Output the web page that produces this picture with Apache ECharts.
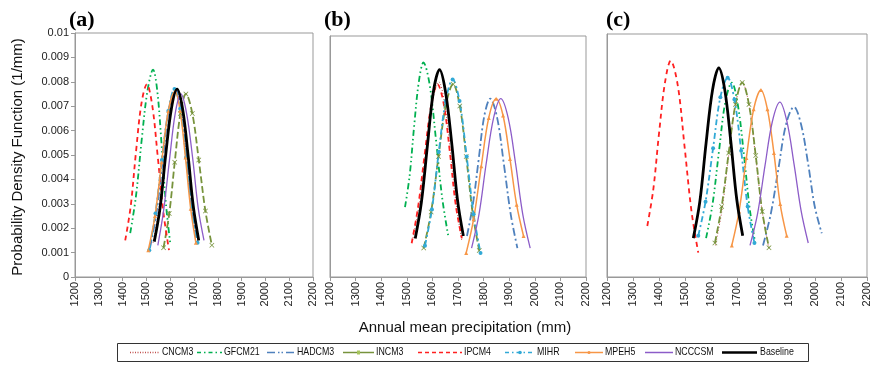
<!DOCTYPE html>
<html><head><meta charset="utf-8">
<script src="https://cdn.jsdelivr.net/npm/echarts@6/dist/echarts.min.js"></script>
<style>html,body{margin:0;padding:0;background:#fff}#c{width:876px;height:366px}</style>
</head><body><div id="c"></div>
<script>
const seriesNames = ['CNCM3','GFCM21','HADCM3','INCM3','IPCM4','MIHR','MPEH5','NCCCSM','Baseline'];
const panelLabels = ['(a)','(b)','(c)'];
const xAxisTitle = 'Annual mean precipitation (mm)';
const yAxisTitle = 'Probability Density Function (1/mm)';
const xMin = 1200, xMax = 2200, xStep = 100;
const yMin = 0, yMax = 0.01, yStep = 0.001;

// ---- panel (a) ----
const a_CNCM3   = [[1528,.0014],[1552,.0028],[1577,.0049],[1601,.0068],[1626,.0076],[1649,.0068],[1672,.0049],[1695,.0028],[1718,.0015]];
const a_GFCM21  = [[1432,.0018],[1456,.0033],[1480,.0056],[1504,.0076],[1528,.0085],[1546,.0076],[1564,.0054],[1582,.0030],[1600,.0014]];
const a_HADCM3  = [[1515,.0012],[1542,.0026],[1569,.0048],[1595,.0069],[1622,.0077],[1645,.0069],[1668,.0049],[1690,.0028],[1713,.0014]];
const a_INCM3   = [[1572,.0012],[1596,.0026],[1619,.0047],[1643,.0067],[1666,.0075],[1693,.0067],[1720,.0048],[1748,.0027],[1775,.0013]];
const a_IPCM4   = [[1411,.0015],[1434,.0029],[1456,.0051],[1479,.0071],[1502,.0079],[1525,.0070],[1548,.0049],[1572,.0026],[1595,.0011]];
const a_MIHR    = [[1512,.0011],[1538,.0026],[1565,.0048],[1592,.0068],[1618,.0077],[1642,.0069],[1667,.0049],[1691,.0028],[1715,.0014]];
const a_MPEH5   = [[1508,.0011],[1536,.0025],[1564,.0047],[1592,.0068],[1620,.0076],[1642,.0068],[1664,.0049],[1686,.0028],[1708,.0014]];
const a_NCCCSM  = [[1548,.0013],[1572,.0027],[1597,.0048],[1621,.0067],[1645,.0075],[1669,.0067],[1694,.0049],[1718,.0028],[1742,.0015]];
const a_Baseline= [[1533,.00145],[1557,.0028],[1581,.0050],[1605,.0069],[1629,.0077],[1652,.0069],[1675,.0050],[1697,.0029],[1720,.0015]];

// ---- panel (b) ----
const b_CNCM3   = [[1522,.0015],[1548,.0030],[1574,.0052],[1599,.0072],[1625,.0081],[1648,.0072],[1670,.0052],[1693,.0030],[1715,.0015]];
const b_GFCM21  = [[1493,.0029],[1511,.0042],[1529,.0063],[1547,.0081],[1565,.0089],[1589,.0080],[1614,.0057],[1638,.0033],[1662,.0017]];
const b_HADCM3  = [[1735,.0017],[1758,.0030],[1781,.0049],[1803,.0067],[1826,.0074],[1853,.0066],[1879,.0047],[1906,.0026],[1932,.0012]];
const b_INCM3   = [[1566,.0012],[1595,.0027],[1624,.0050],[1652,.0071],[1681,.0080],[1707,.0071],[1732,.0050],[1758,.0026],[1783,.0011]];
const b_IPCM4   = [[1519,.0014],[1544,.0029],[1570,.0051],[1595,.0071],[1620,.0080],[1644,.0072],[1668,.0052],[1691,.0030],[1715,.0016]];
const b_MIHR    = [[1571,.0013],[1598,.0028],[1625,.0052],[1652,.0073],[1679,.0082],[1706,.0073],[1734,.0050],[1761,.0026],[1788,.0010]];
const b_MPEH5   = [[1732,.0010],[1761,.0024],[1791,.0046],[1820,.0066],[1849,.0074],[1876,.0067],[1903,.0049],[1929,.0030],[1956,.0017]];
const b_NCCCSM  = [[1753,.0012],[1782,.0026],[1810,.0047],[1839,.0066],[1867,.0074],[1896,.0066],[1925,.0047],[1953,.0026],[1982,.0012]];
const b_Baseline= [[1533,.0016],[1557,.0031],[1581,.0055],[1604,.0077],[1628,.0086],[1651,.0077],[1675,.0056],[1698,.0032],[1721,.0017]];

// ---- panel (c) ----
const c_CNCM3   = [[1617,.0013],[1643,.0028],[1669,.0051],[1694,.0071],[1720,.0080],[1746,.0071],[1771,.0050],[1797,.0027],[1822,.0012]];
const c_GFCM21  = [[1581,.0016],[1606,.0030],[1631,.0052],[1655,.0072],[1680,.0080],[1703,.0071],[1726,.0051],[1749,.0028],[1772,.0013]];
const c_HADCM3  = [[1800,.0013],[1830,.0026],[1860,.0045],[1889,.0063],[1919,.0070],[1946,.0063],[1973,.0047],[1999,.0029],[2026,.0018]];
const c_INCM3   = [[1615,.0014],[1641,.0029],[1668,.0051],[1694,.0071],[1720,.0080],[1746,.0071],[1772,.0050],[1797,.0027],[1823,.0012]];
const c_IPCM4   = [[1355,.0021],[1378,.0036],[1400,.0059],[1423,.0080],[1445,.0089],[1472,.0079],[1498,.0054],[1525,.0027],[1551,.0010]];
const c_MIHR    = [[1551,.0017],[1579,.0031],[1608,.0053],[1636,.0074],[1664,.0082],[1690,.0073],[1716,.0052],[1741,.0029],[1767,.0014]];
const c_MPEH5   = [[1680,.0013],[1708,.0027],[1736,.0049],[1764,.0069],[1792,.0077],[1817,.0069],[1842,.0051],[1866,.0030],[1891,.0017]];
const c_NCCCSM  = [[1750,.0013],[1779,.0026],[1808,.0046],[1836,.0064],[1865,.0072],[1892,.0064],[1920,.0046],[1947,.0027],[1974,.0014]];
const c_Baseline= [[1532,.0016],[1557,.0031],[1581,.0055],[1606,.0077],[1630,.0086],[1653,.0077],[1676,.0056],[1699,.0032],[1722,.0017]];

const panelData = [
  [a_CNCM3,a_GFCM21,a_HADCM3,a_INCM3,a_IPCM4,a_MIHR,a_MPEH5,a_NCCCSM,a_Baseline],
  [b_CNCM3,b_GFCM21,b_HADCM3,b_INCM3,b_IPCM4,b_MIHR,b_MPEH5,b_NCCCSM,b_Baseline],
  [c_CNCM3,c_GFCM21,c_HADCM3,c_INCM3,c_IPCM4,c_MIHR,c_MPEH5,c_NCCCSM,c_Baseline]
];

const xShape = 'path://M0,1L1,0L5,4L9,0L10,1L6,5L10,9L9,10L5,6L1,10L0,9L4,5Z';
const styles = {
  CNCM3:   {color:'#c0504d', width:1,   type:[1,2],             symbol:'none'},
  GFCM21:  {color:'#00b050', width:1.8, type:[6,3,1.5,3,1.5,3], symbol:'none'},
  HADCM3:  {color:'#4f81bd', width:1.8, type:[8,3,2,3],         symbol:'none'},
  INCM3:   {color:'#77933c', width:1.8, type:[7,3],             symbol:xShape, size:5},
  IPCM4:   {color:'#ff2020', width:1.8, type:[5,4],             symbol:'none'},
  MIHR:    {color:'#31a9d6', width:1.8, type:[6,3,2,3],         symbol:'circle', size:4},
  MPEH5:   {color:'#f79646', width:1.5, type:'solid',           symbol:'triangle', size:4},
  NCCCSM:  {color:'#8c5cc8', width:1.3, type:'solid',           symbol:'none'},
  Baseline:{color:'#000000', width:2.8, type:'solid',           symbol:'none'}
};
// legend sample layout: [lineStartX, lineEndX, textX]
const legendLayout = [[130,160,162],[197,222,224],[267,295,297],[343,374,376],[418,462,464],[505,535,537],[575,603,605],[645,673,675],[722,757,760]];
const legendLineStyle = {
  CNCM3:[1,1.5], GFCM21:[4,3,1.5,3], HADCM3:[8,3,1.5,2,1.5,3], INCM3:null, IPCM4:[4,3], MIHR:[4,3,1.5,3], MPEH5:null, NCCCSM:null, Baseline:null
};

const grids = [
  {left:75,  top:33, width:238, height:244},
  {left:330, top:36, width:256, height:241},
  {left:607, top:34, width:260, height:243}
];
const labelPos = [[69,9],[324,9],[606,9]];
const font = 'Liberation Sans, Arial, sans-serif';
const legendFont = '10.5px "Liberation Sans", Arial, sans-serif';

const xAxes = grids.map((g,i)=>({
  type:'value', gridIndex:i, min:xMin, max:xMax, interval:xStep,
  axisLine:{show:true, lineStyle:{color:'#999'}},
  axisTick:{show:true, length:4, lineStyle:{color:'#999'}},
  splitLine:{show:false},
  axisLabel:{rotate:90, fontSize:11, color:'#222', fontFamily:font, margin:5, showMaxLabel:true, showMinLabel:true,
    formatter:v=>String(v)}
}));
const yAxes = grids.map((g,i)=>({
  type:'value', gridIndex:i, min:yMin, max:yMax, interval:yStep,
  axisLine:{show:true, lineStyle:{color:'#999'}},
  axisTick:{show:i===0, length:4, lineStyle:{color:'#999'}},
  splitLine:{show:false},
  axisLabel:{show:i===0, fontSize:11, color:'#222', fontFamily:font, margin:6,
    formatter:v=>v===0?'0':String(+v.toFixed(3))}
}));

const series = [];
panelData.forEach((arr,p)=>{
  arr.forEach((data,k)=>{
    const nm = seriesNames[k], s = styles[nm];
    series.push({
      name:nm, type:'line', xAxisIndex:p, yAxisIndex:p, data:data,
      smooth:0.35, silent:true, animation:false,
      showSymbol: s.symbol!=='none', symbol:s.symbol, symbolSize:s.size||4,
      itemStyle:{color:s.color},
      lineStyle:{color:s.color, width:s.width, type:s.type},
      z: nm==='Baseline'?5:2
    });
  });
});

const graphics = [];
panelLabels.forEach((t,i)=>graphics.push({type:'text', left:labelPos[i][0], top:labelPos[i][1],
  style:{text:t, font:'bold 22px "Liberation Serif", "Times New Roman", serif', fill:'#000'}}));
graphics.push({type:'text', x:18, y:157, rotation:Math.PI/2, style:{text:yAxisTitle, font:'15px '+font, fill:'#111', align:'center', verticalAlign:'middle'}});
graphics.push({type:'text', x:465, y:328, style:{text:xAxisTitle, font:'15px '+font, fill:'#111', align:'center', verticalAlign:'middle'}});
graphics.push({type:'rect', shape:{x:117.5, y:343.5, width:691, height:18}, style:{fill:'none', stroke:'#333', lineWidth:1}});
// manual legend
const ly = 352.5;
seriesNames.forEach((nm,k)=>{
  const s = styles[nm], L = legendLayout[k];
  graphics.push({type:'line', shape:{x1:L[0], y1:ly, x2:L[1], y2:ly},
    style:{stroke:s.color, lineWidth:nm==='Baseline'?2.5:1.5, lineDash:legendLineStyle[nm]||null}});
  const mx = (L[0]+L[1])/2;
  if (nm==='MIHR') graphics.push({type:'circle', shape:{cx:mx, cy:ly, r:1.8}, style:{fill:s.color}});
  if (nm==='MPEH5') graphics.push({type:'circle', shape:{cx:mx, cy:ly, r:1.5}, style:{fill:s.color}});
  if (nm==='INCM3') graphics.push({type:'rect', shape:{x:mx-1.5, y:ly-2, width:3, height:4}, style:{fill:'#a6c45c'}});
  graphics.push({type:'text', x:L[2], y:ly, scaleX:0.84, originX:0, originY:0,
    style:{text:nm, font:legendFont, fill:'#111', verticalAlign:'middle'}});
});

const chart = echarts.init(document.getElementById('c'), null, {renderer:'canvas'});
chart.setOption({
  animation:false,
  backgroundColor:'#fff',
  grid: grids.map(g=>Object.assign({show:true, borderColor:'#999', borderWidth:1, containLabel:false}, g)),
  xAxis:xAxes, yAxis:yAxes, series:series,
  graphic:graphics
});
</script></body></html>
